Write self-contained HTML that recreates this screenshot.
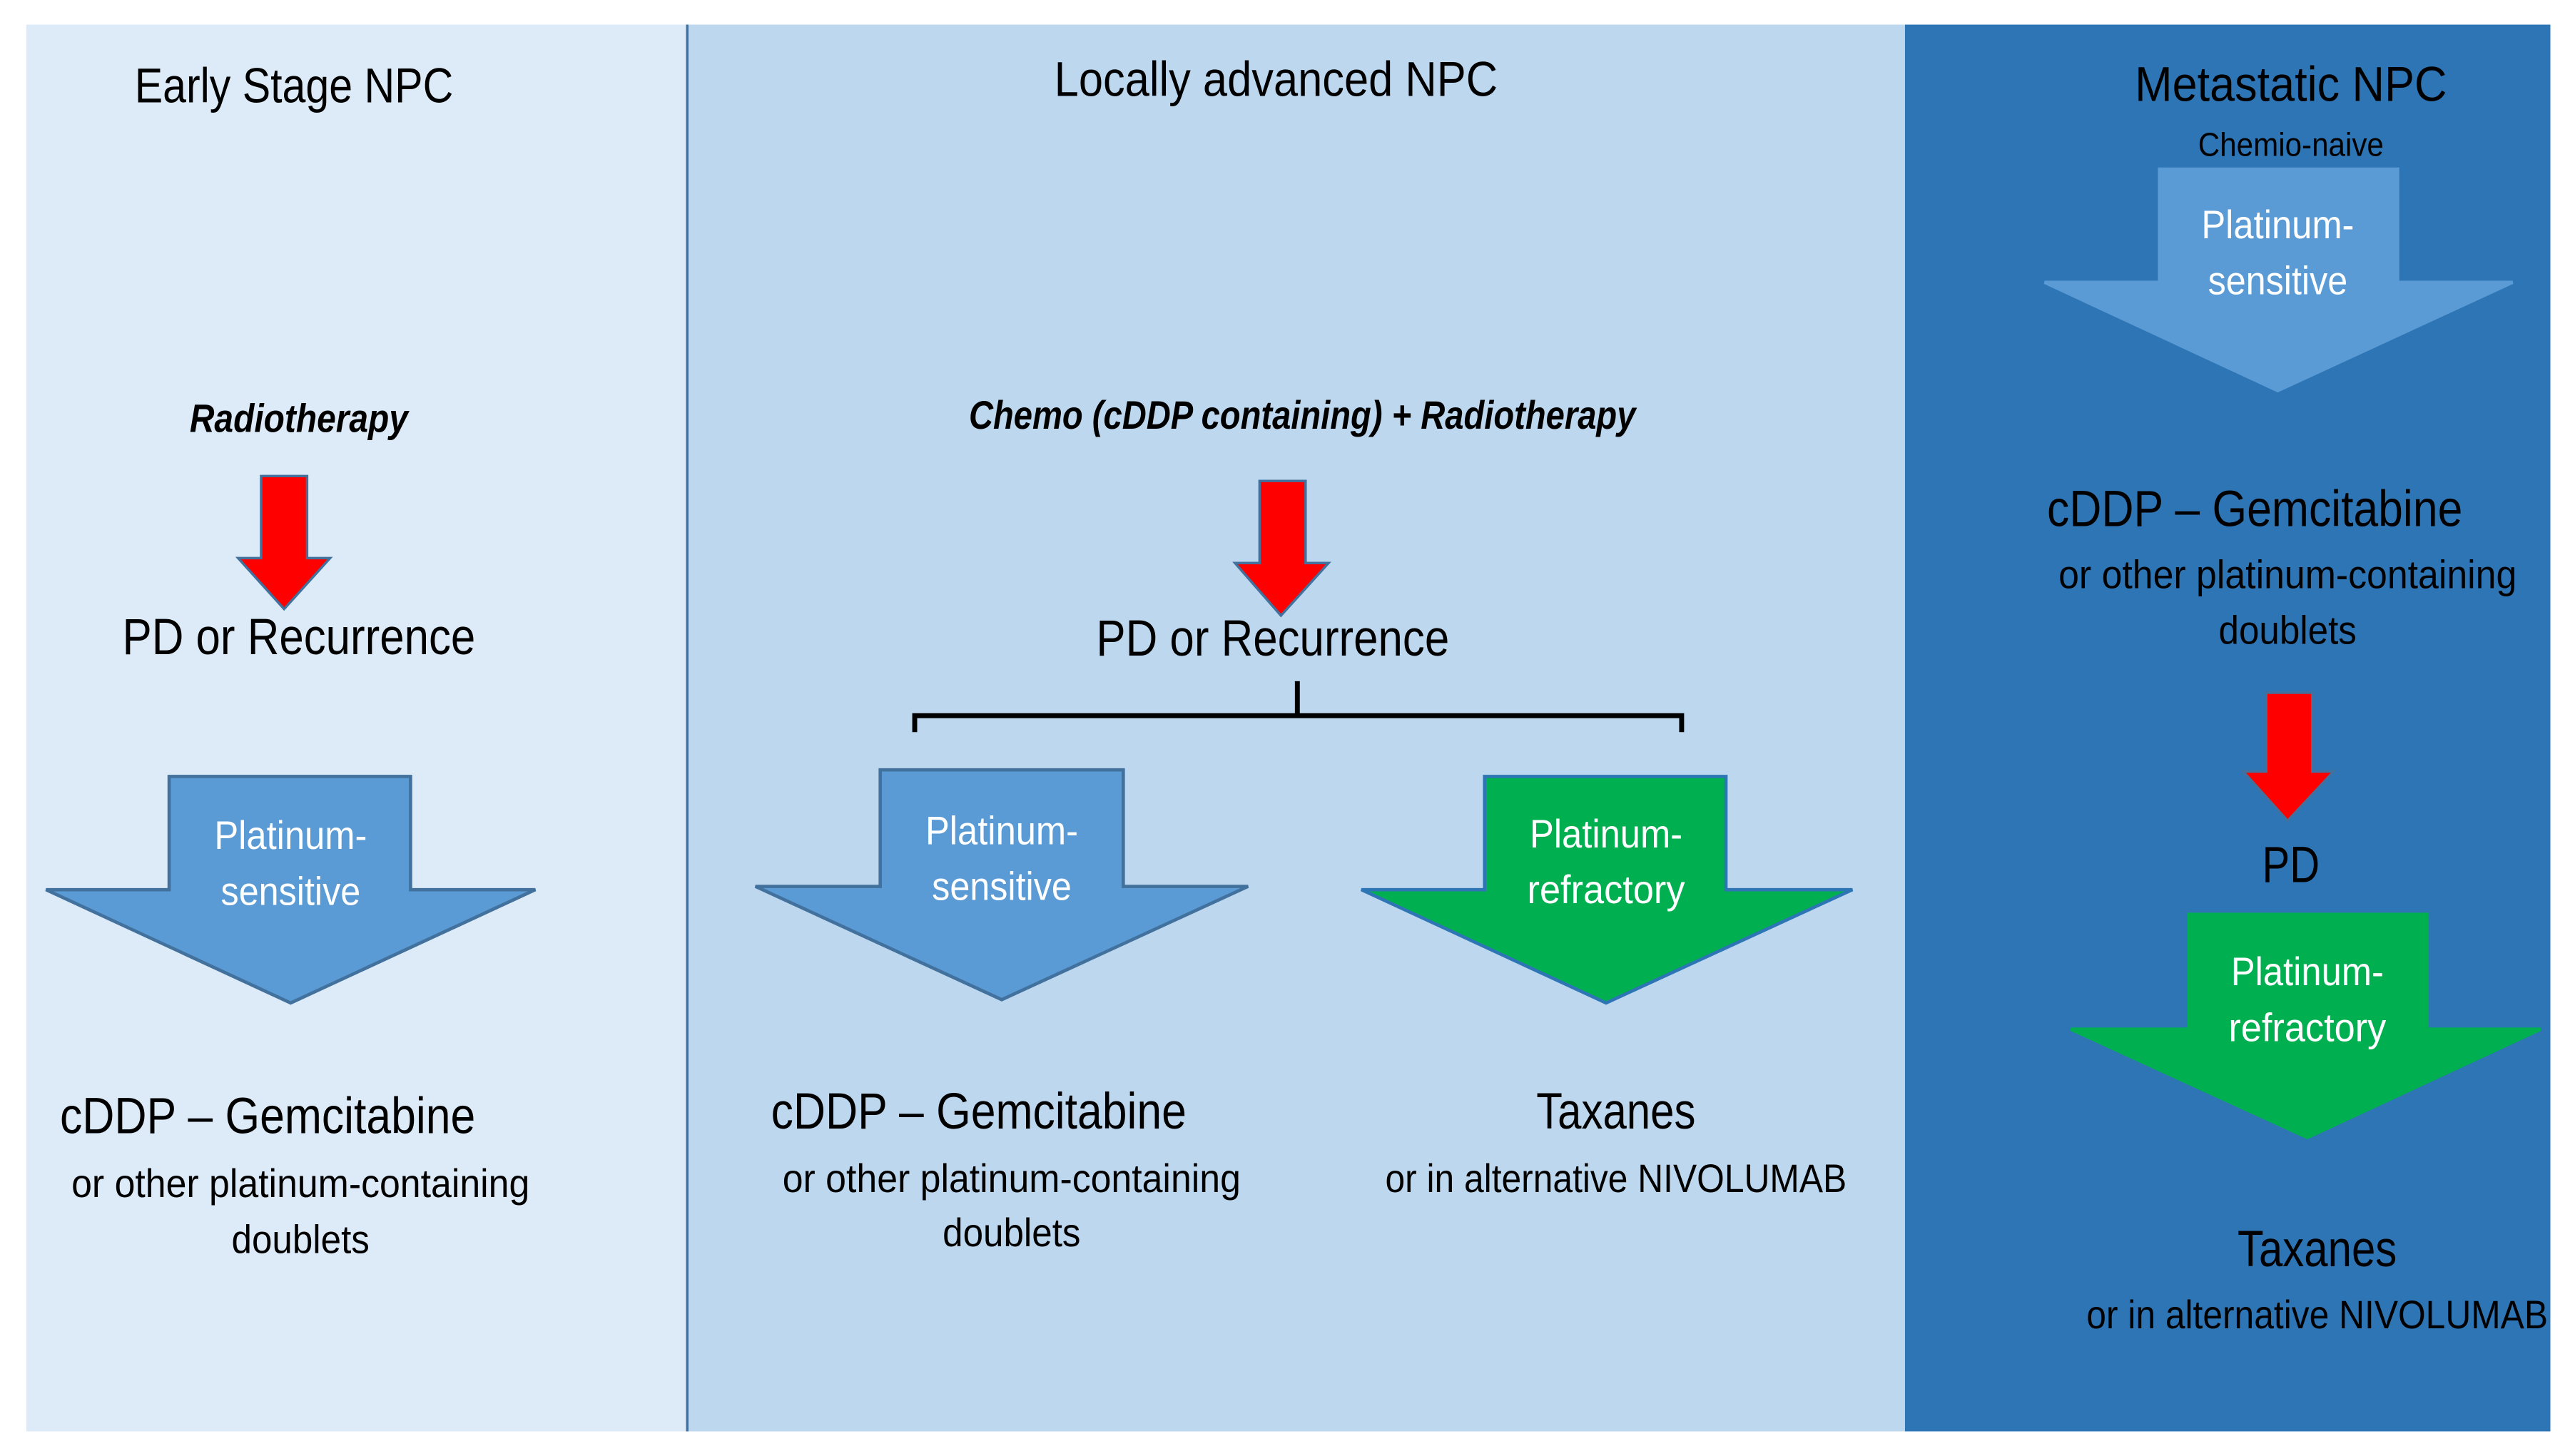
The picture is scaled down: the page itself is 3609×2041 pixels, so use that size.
<!DOCTYPE html>
<html><head><meta charset="utf-8"><style>html,body{margin:0;padding:0;background:#fff}svg{display:block}text{font-family:"Liberation Sans",sans-serif}</style></head>
<body>
<svg width="3609" height="2041" viewBox="0 0 1568 887" preserveAspectRatio="none" xmlns="http://www.w3.org/2000/svg" fill="#000">
<rect x="0" y="0" width="1568" height="887" fill="#fff"/>
<rect x="16" y="15" width="403" height="857" fill="#ddeaf7"/>
<rect x="419" y="15" width="741" height="857" fill="#bdd7ee"/>
<rect x="1160" y="15" width="393" height="857" fill="#2e75b6"/>
<line x1="418.5" y1="15" x2="418.5" y2="872" stroke="#41719c" stroke-width="1.5"/>
<g dominant-baseline="central" text-anchor="middle" fill="#000">
<text x="179" y="52" font-size="30" textLength="194" lengthAdjust="spacingAndGlyphs">Early Stage NPC</text>
<text x="777" y="48" font-size="30" textLength="270" lengthAdjust="spacingAndGlyphs">Locally advanced NPC</text>
<text x="1395" y="51" font-size="30" textLength="190" lengthAdjust="spacingAndGlyphs">Metastatic NPC</text>
<text x="1395" y="88" font-size="20" textLength="113" lengthAdjust="spacingAndGlyphs">Chemio-naive</text>
<text x="182" y="255" font-size="24" font-weight="bold" font-style="italic" textLength="133" lengthAdjust="spacingAndGlyphs">Radiotherapy</text>
<text x="793" y="253" font-size="24" font-weight="bold" font-style="italic" textLength="406" lengthAdjust="spacingAndGlyphs">Chemo (cDDP containing) + Radiotherapy</text>
<text x="182" y="388" font-size="31" textLength="215" lengthAdjust="spacingAndGlyphs">PD or Recurrence</text>
<text x="775" y="389" font-size="31" textLength="215" lengthAdjust="spacingAndGlyphs">PD or Recurrence</text>
<text x="1395" y="527" font-size="31" textLength="35" lengthAdjust="spacingAndGlyphs">PD</text>
</g>
<g fill="#ff0000" stroke="#41719c" stroke-width="1.5">
<polygon points="159,290 187,290 187,340 201,340 173,371 145,340 159,340"/>
<polygon points="767,293 795,293 795,343 809,343 780,375 752,343 767,343"/>
<polygon points="1380,422 1408,422 1408,470 1421,470 1393,500 1366,470 1380,470"/>
</g>
<path d="M557,446 L557,436 L1024,436 L1024,446 M790,436 L790,415" fill="none" stroke="#000" stroke-width="3"/>
<g stroke="#41719c" stroke-width="2">
<polygon fill="#5b9bd5" points="103,473 250,473 250,542 326,542 177,611 28,542 103,542"/>
<polygon fill="#5b9bd5" points="536,469 684,469 684,540 760,540 610,609 460,540 536,540"/>
<polygon fill="#00b050" stroke="#2e75b6" points="904,473 1051,473 1051,542 1128,542 978,611 829,542 904,542"/>
<polygon fill="#5b9bd5" stroke="#5b9bd5" points="1315,103 1460,103 1460,172 1530,172 1387,238 1245,172 1315,172"/>
<polygon fill="#00b050" stroke="#00b050" points="1333,557 1478,557 1478,627 1547,627 1405,693 1261,627 1333,627"/>
</g>
<g dominant-baseline="central" text-anchor="middle">
<g font-size="24" fill="#ffffff">
<text x="177" y="509" textLength="93" lengthAdjust="spacingAndGlyphs">Platinum-</text>
<text x="177" y="543" textLength="85" lengthAdjust="spacingAndGlyphs">sensitive</text>
<text x="610" y="506" textLength="93" lengthAdjust="spacingAndGlyphs">Platinum-</text>
<text x="610" y="540" textLength="85" lengthAdjust="spacingAndGlyphs">sensitive</text>
<text x="978" y="508" textLength="93" lengthAdjust="spacingAndGlyphs">Platinum-</text>
<text x="978" y="542" textLength="96" lengthAdjust="spacingAndGlyphs">refractory</text>
<text x="1387" y="137" textLength="93" lengthAdjust="spacingAndGlyphs">Platinum-</text>
<text x="1387" y="171" textLength="85" lengthAdjust="spacingAndGlyphs">sensitive</text>
<text x="1405" y="592" textLength="93" lengthAdjust="spacingAndGlyphs">Platinum-</text>
<text x="1405" y="626" textLength="96" lengthAdjust="spacingAndGlyphs">refractory</text>
</g>
<g fill="#000">
<text x="163" y="680" font-size="31" textLength="253" lengthAdjust="spacingAndGlyphs">cDDP – Gemcitabine</text>
<text x="183" y="721" font-size="24" textLength="279" lengthAdjust="spacingAndGlyphs">or other platinum-containing</text>
<text x="183" y="755" font-size="24" textLength="84" lengthAdjust="spacingAndGlyphs">doublets</text>
<text x="596" y="677" font-size="31" textLength="253" lengthAdjust="spacingAndGlyphs">cDDP – Gemcitabine</text>
<text x="616" y="718" font-size="24" textLength="279" lengthAdjust="spacingAndGlyphs">or other platinum-containing</text>
<text x="616" y="751" font-size="24" textLength="84" lengthAdjust="spacingAndGlyphs">doublets</text>
<text x="984" y="677" font-size="31" textLength="97" lengthAdjust="spacingAndGlyphs">Taxanes</text>
<text x="984" y="718" font-size="24" textLength="281" lengthAdjust="spacingAndGlyphs">or in alternative NIVOLUMAB</text>
<text x="1373" y="310" font-size="31" textLength="253" lengthAdjust="spacingAndGlyphs">cDDP – Gemcitabine</text>
<text x="1393" y="350" font-size="24" textLength="279" lengthAdjust="spacingAndGlyphs">or other platinum-containing</text>
<text x="1393" y="384" font-size="24" textLength="84" lengthAdjust="spacingAndGlyphs">doublets</text>
<text x="1411" y="761" font-size="31" textLength="97" lengthAdjust="spacingAndGlyphs">Taxanes</text>
<text x="1411" y="801" font-size="24" textLength="281" lengthAdjust="spacingAndGlyphs">or in alternative NIVOLUMAB</text>
</g>
</g>
</svg>
</body></html>
